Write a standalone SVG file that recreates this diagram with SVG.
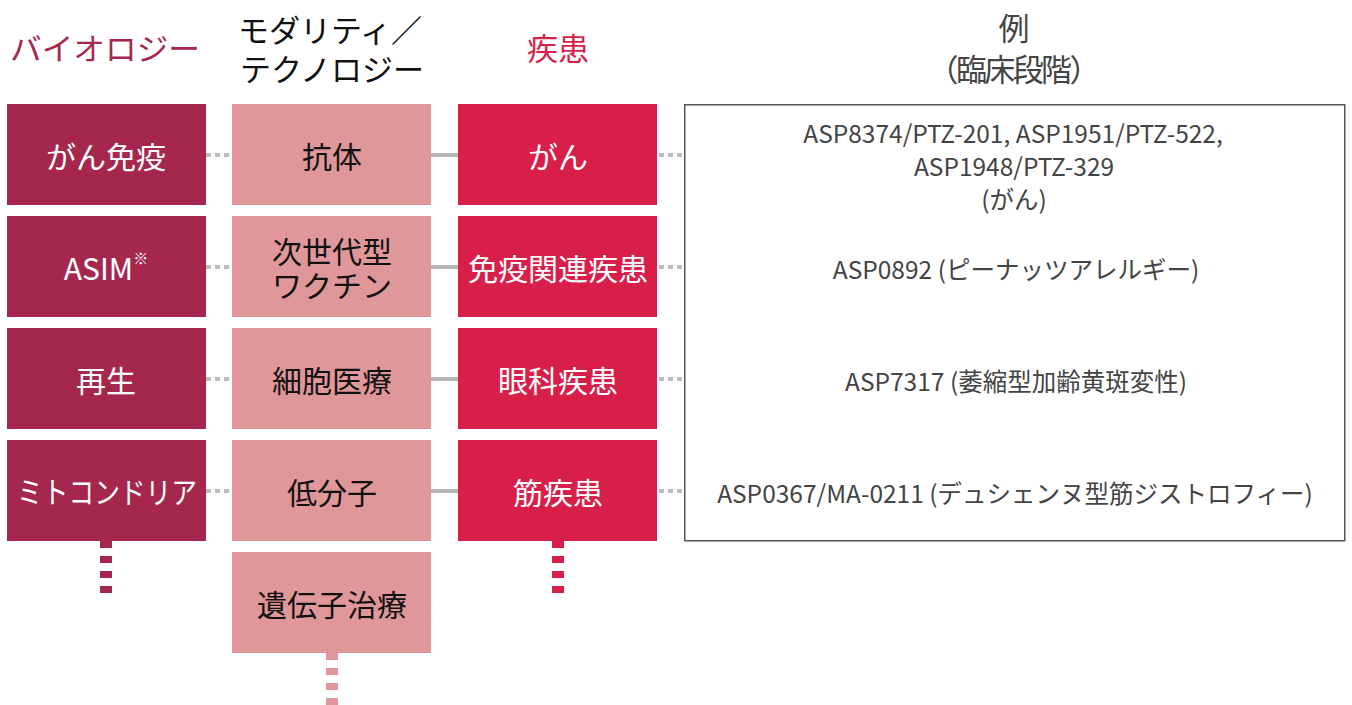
<svg xmlns="http://www.w3.org/2000/svg" width="1352" height="705" viewBox="0 0 1352 705">
<style>
.t{font-family:"Noto Sans CJK JP","Noto Sans",sans-serif;text-anchor:middle;dominant-baseline:central}
.h{font-size:31px;font-weight:400}
.big{font-size:30px}
.w{fill:#fff}
.k{fill:#111}
.ex{font-size:24.5px;fill:#444}
.bio{fill:#A6274E}
.mod{fill:#E09799}
.dis{fill:#D81F4A}
.dot{stroke:#bcbcbc;stroke-width:4;stroke-dasharray:5 4}
.sol{stroke:#b5b5b5;stroke-width:4}
</style>
<rect width="1352" height="705" fill="#fff"/>
<g id="headers">
<text class="t h" x="105" y="46" fill="#A6274E" textLength="190" lengthAdjust="spacingAndGlyphs">バイオロジー</text>
<text class="t h k" x="330" y="28">モダリティ／</text>
<text class="t h k" x="332" y="67">テクノロジー</text>
<text class="t h" x="558" y="46" fill="#D81F4A">疾患</text>
<text class="t h" x="1014" y="26" fill="#444">例</text>
<text class="t h" x="1014" y="67" fill="#444" textLength="173" lengthAdjust="spacing">（臨床段階）</text>
</g>
<g id="connectors">
<line class="dot" x1="206" y1="155" x2="232" y2="155"/>
<line class="dot" x1="206" y1="267" x2="232" y2="267"/>
<line class="dot" x1="206" y1="379" x2="232" y2="379"/>
<line class="dot" x1="206" y1="491" x2="232" y2="491"/>
<line class="sol" x1="431" y1="155" x2="458" y2="155"/>
<line class="sol" x1="431" y1="267" x2="458" y2="267"/>
<line class="sol" x1="431" y1="379" x2="458" y2="379"/>
<line class="sol" x1="431" y1="491" x2="458" y2="491"/>
<line class="dot" x1="659" y1="155" x2="684" y2="155"/>
<line class="dot" x1="659" y1="267" x2="684" y2="267"/>
<line class="dot" x1="659" y1="379" x2="684" y2="379"/>
<line class="dot" x1="659" y1="491" x2="684" y2="491"/>
<line x1="106" y1="541" x2="106" y2="593" stroke="#A6274E" stroke-width="12" stroke-dasharray="7 8"/>
<line x1="332" y1="653" x2="332" y2="705" stroke="#E09799" stroke-width="12" stroke-dasharray="7 8"/>
<line x1="558" y1="541" x2="558" y2="593" stroke="#D81F4A" stroke-width="12" stroke-dasharray="7 8"/>
</g>
<g id="bio-1"><rect class="bio" x="7" y="104" width="199" height="101"/><text class="t big w" x="106" y="155">がん免疫</text></g>
<g id="bio-2"><rect class="bio" x="7" y="216" width="199" height="101"/><text class="t big w" x="106" y="267">ASIM<tspan font-size="15" dy="-10">※</tspan></text></g>
<g id="bio-3"><rect class="bio" x="7" y="328" width="199" height="101"/><text class="t big w" x="106" y="379">再生</text></g>
<g id="bio-4"><rect class="bio" x="7" y="440" width="199" height="101"/><text class="t big w" x="107" y="490" textLength="180" lengthAdjust="spacingAndGlyphs">ミトコンドリア</text></g>
<g id="mod-1"><rect class="mod" x="232" y="104" width="199" height="101"/><text class="t big k" x="332" y="155">抗体</text></g>
<g id="mod-2"><rect class="mod" x="232" y="216" width="199" height="101"/><text class="t big k" x="332" y="250">次世代型</text><text class="t big k" x="332" y="284">ワクチン</text></g>
<g id="mod-3"><rect class="mod" x="232" y="328" width="199" height="101"/><text class="t big k" x="332" y="379">細胞医療</text></g>
<g id="mod-4"><rect class="mod" x="232" y="440" width="199" height="101"/><text class="t big k" x="332" y="491">低分子</text></g>
<g id="mod-5"><rect class="mod" x="232" y="552" width="199" height="101"/><text class="t big k" x="332" y="603">遺伝子治療</text></g>
<g id="dis-1"><rect class="dis" x="458" y="104" width="199" height="101"/><text class="t big w" x="558" y="155">がん</text></g>
<g id="dis-2"><rect class="dis" x="458" y="216" width="199" height="101"/><text class="t big w" x="558" y="267">免疫関連疾患</text></g>
<g id="dis-3"><rect class="dis" x="458" y="328" width="199" height="101"/><text class="t big w" x="558" y="379">眼科疾患</text></g>
<g id="dis-4"><rect class="dis" x="458" y="440" width="199" height="101"/><text class="t big w" x="558" y="491">筋疾患</text></g>
<g id="examples">
<rect x="684.75" y="104.75" width="660" height="436" fill="#fff" stroke="#555" stroke-width="1.5"/>
<text class="t ex" x="1013" y="132">ASP8374/PTZ-201, ASP1951/PTZ-522,</text>
<text class="t ex" x="1014" y="165">ASP1948/PTZ-329</text>
<text class="t ex" x="1014" y="198">(がん)</text>
<text class="t ex" x="1016" y="268">ASP0892 (ピーナッツアレルギー)</text>
<text class="t ex" x="1016" y="380">ASP7317 (萎縮型加齢黄斑変性)</text>
<text class="t ex" x="1015" y="492">ASP0367/MA-0211 (デュシェンヌ型筋ジストロフィー)</text>
</g>
</svg>
